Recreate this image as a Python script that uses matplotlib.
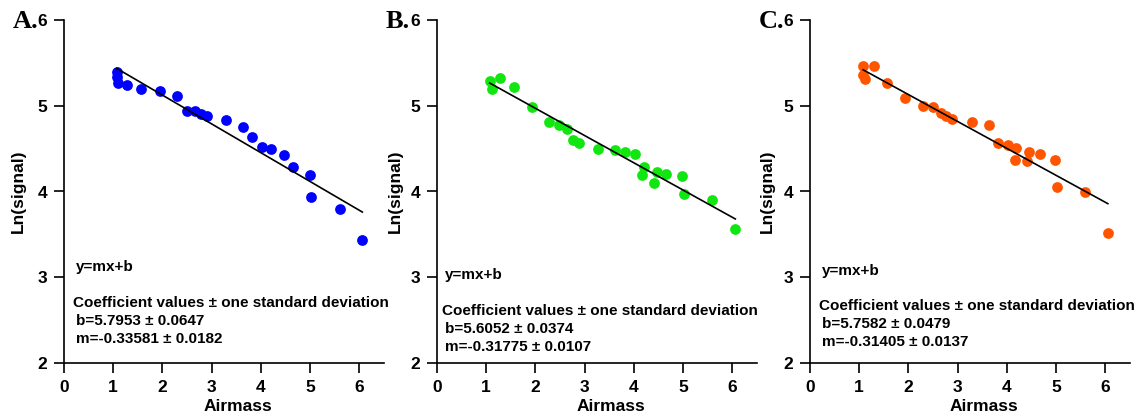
import matplotlib.pyplot as plt
import numpy as np

plt.rcParams['font.family'] = ['Liberation Sans', 'DejaVu Sans']

# airmass / ln(signal) for the three data sets
x_a = [1.07, 1.08, 1.10, 1.27, 1.57, 1.95, 2.30, 2.49, 2.67, 2.78, 2.90, 3.30,
       3.63, 3.82, 4.02, 4.20, 4.46, 4.66, 5.00, 5.02, 5.60, 6.06]
y_a = [5.39, 5.34, 5.26, 5.24, 5.19, 5.17, 5.11, 4.94, 4.94, 4.90, 4.88, 4.83,
       4.75, 4.63, 4.52, 4.50, 4.42, 4.29, 4.19, 3.94, 3.80, 3.43]

x_b = [1.07, 1.11, 1.27, 1.56, 1.93, 2.28, 2.48, 2.64, 2.76, 2.88, 3.28, 3.62,
       3.81, 4.02, 4.20, 4.16, 4.46, 4.41, 4.66, 4.98, 5.01, 5.59, 6.06]
y_b = [5.29, 5.20, 5.32, 5.22, 4.99, 4.81, 4.77, 4.73, 4.60, 4.56, 4.50, 4.48,
       4.46, 4.44, 4.29, 4.19, 4.23, 4.10, 4.20, 4.18, 3.97, 3.90, 3.56]

x_c = [1.08, 1.08, 1.12, 1.29, 1.56, 1.93, 2.29, 2.50, 2.66, 2.77, 2.88, 3.29,
       3.63, 3.82, 4.02, 4.19, 4.16, 4.45, 4.41, 4.67, 4.98, 5.01, 5.59, 6.05]
y_c = [5.46, 5.36, 5.31, 5.46, 5.27, 5.09, 5.00, 4.99, 4.92, 4.88, 4.85, 4.81,
       4.77, 4.56, 4.54, 4.51, 4.37, 4.46, 4.35, 4.44, 4.37, 4.05, 3.99, 3.52]

# fit coefficients (b, b_err, m, m_err)
b_vals = [5.7953, 5.6052, 5.7582]
b_errs = ['0.0647', '0.0374', '0.0479']
m_vals = [-0.33581, -0.31775, -0.31405]
m_errs = ['0.0182', '0.0107', '0.0137']

panel_letters = ['A.', 'B.', 'C.']
colors = ['#0000FF', '#11E611', '#FF5500']
xs = [x_a, x_b, x_c]
ys = [y_a, y_b, y_c]

# text positions (data coords) for the fit annotations
text_x = [0.25, 0.17, 0.25]
eq_y = [3.12, 3.03, 3.07]
coef_y = [2.70, 2.61, 2.67]
ylab_x = [-0.77, -0.69, -0.72]
lefts = [64, 437, 810]

fig = plt.figure(figsize=(11.43, 4.19), dpi=100)

for i in range(3):
    ax = fig.add_axes([lefts[i] / 1143, 56 / 419, 320 / 1143, 343 / 419])
    ax.scatter(xs[i], ys[i], s=60, color=colors[i], zorder=2, linewidths=0)
    xf = np.array([min(xs[i]), max(xs[i])])
    ax.plot(xf, b_vals[i] + m_vals[i] * xf, color='black', lw=1.2, zorder=3)

    ax.set_xlim(0, 6.5)
    ax.set_ylim(2, 6)
    ax.set_xticks(range(0, 7))
    ax.set_yticks(range(2, 7))
    for s in ['top', 'right']:
        ax.spines[s].set_visible(False)
    for s in ['left', 'bottom']:
        ax.spines[s].set_linewidth(1.2)
    ax.tick_params(length=7, width=1.2, labelsize=12.5, pad=5)
    for lab in ax.get_xticklabels() + ax.get_yticklabels():
        lab.set_fontweight('bold')

    ax.set_xlabel('Airmass', fontsize=12.5, fontweight='bold')
    ax.xaxis.set_label_coords(3.54 / 6.5, -0.105)
    ax.set_ylabel('Ln(signal)', fontsize=12.5, fontweight='bold')
    ax.yaxis.set_label_coords(ylab_x[i] / 6.5, 0.5)

    ax.text(text_x[i], eq_y[i], 'y=mx+b', fontsize=11, fontweight='bold',
            va='center', ha='left')
    ax.text(text_x[i] - 0.06, coef_y[i],
            'Coefficient values \u00b1 one standard deviation',
            fontsize=11, fontweight='bold', va='center', ha='left', clip_on=False)
    ax.text(text_x[i], coef_y[i] - 0.215,
            f'b={b_vals[i]:.4f} \u00b1 {b_errs[i]}',
            fontsize=11, fontweight='bold', va='center', ha='left')
    ax.text(text_x[i], coef_y[i] - 0.425,
            f'm={m_vals[i]:.5f} \u00b1 {m_errs[i]}',
            fontsize=11, fontweight='bold', va='center', ha='left')

    fig.text((lefts[i] - 51) / 1143, 1 - 28 / 419, panel_letters[i],
             fontsize=19, fontweight='bold', family='Liberation Serif',
             ha='left', va='baseline')

fig.savefig('out.png', dpi=100)
